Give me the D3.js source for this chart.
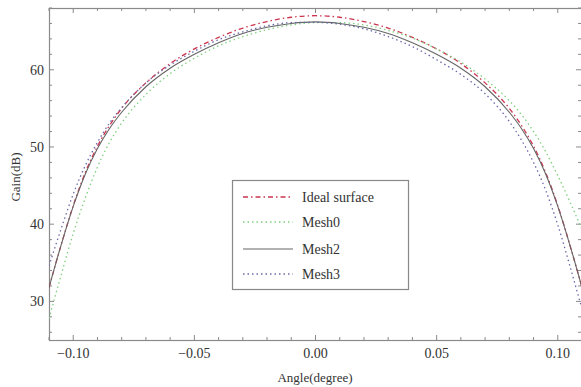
<!DOCTYPE html>
<html><head><meta charset="utf-8">
<script src="https://cdn.jsdelivr.net/npm/d3@7"></script>
<style>body{margin:0;background:#fff}svg{display:block}</style>
</head><body>
<svg id="c" width="581" height="387"></svg>
<script>
const angles = [-0.11,-0.105,-0.10,-0.095,-0.09,-0.085,-0.08,-0.07,-0.06,-0.05,-0.04,-0.03,-0.02,-0.01,0,0.01,0.02,0.03,0.04,0.05,0.06,0.07,0.08,0.085,0.09,0.095,0.10,0.105,0.11];
const ideal = [31.8,37.3,42.4,46.7,50.1,52.8,55.0,58.3,60.8,62.7,64.2,65.4,66.25,66.8,67.0,66.8,66.25,65.4,64.2,62.7,60.8,58.3,55.0,52.8,50.1,46.7,42.4,37.3,31.8];
const mesh0 = [27.8,33.4,38.8,43.4,47.4,50.6,53.1,56.8,59.5,61.5,63.1,64.3,65.2,65.8,66.1,66.1,65.8,65.1,64.1,62.7,61.0,58.8,56.0,54.2,52.0,49.4,46.3,42.9,39.3];
const mesh2 = [31.8,37.3,42.3,46.5,49.8,52.4,54.5,57.8,60.2,62.0,63.5,64.7,65.5,66.0,66.2,66.0,65.5,64.7,63.5,62.0,60.2,57.8,54.5,52.4,49.8,46.5,42.3,37.3,31.8];
const mesh3 = [34.6,39.4,43.9,47.6,50.6,53.1,55.1,58.3,60.6,62.4,63.9,64.9,65.7,66.1,66.15,65.9,65.3,64.3,63.0,61.3,59.4,56.9,53.3,50.9,48.0,44.4,39.9,34.6,29.0];
const seriesNames = ["Ideal surface","Mesh0","Mesh2","Mesh3"];
const xTicks = [-0.10,-0.05,0.00,0.05,0.10];
const xTickLabels = ["\u22120.10","\u22120.05","0.00","0.05","0.10"];
const yTicks = [30,40,50,60];
const xTitle = "Angle(degree)";
const yTitle = "Gain(dB)";

const styles = [
  {color:"#cc3550", dash:"5,3,1.5,3", w:1.3},
  {color:"#80d080", dash:"1.5,3", w:1.3},
  {color:"#666666", dash:null, w:1.1},
  {color:"#6a6aaa", dash:"1.5,3", w:1.3}
];
const data = [ideal, mesh0, mesh2, mesh3];

const svg = d3.select("#c");
const L=49, R=582, T=8, B=340;
const x = d3.scaleLinear().domain([-0.11,0.11]).range([L,R]);
const y = d3.scaleLinear().domain([25,68]).range([B,T]);

svg.append("defs").append("clipPath").attr("id","clip")
  .append("rect").attr("x",L).attr("y",T).attr("width",R-L).attr("height",B-T);

const frameColor="#8a8a8a";
const xMinor = d3.range(-0.11,0.1101,0.01).map(v=>+v.toFixed(2));
const yMinor = d3.range(26,68.01,2);
const g = svg.append("g");
xMinor.forEach(v=>{
  const major = xTicks.some(t=>Math.abs(t-v)<1e-9);
  const len = major?5:3;
  g.append("line").attr("x1",x(v)).attr("x2",x(v)).attr("y1",B).attr("y2",B-len).attr("stroke",frameColor);
  g.append("line").attr("x1",x(v)).attr("x2",x(v)).attr("y1",T).attr("y2",T+len).attr("stroke",frameColor);
});
yMinor.forEach(v=>{
  const major = yTicks.includes(v);
  const len = major?5:3;
  g.append("line").attr("x1",L).attr("x2",L+len).attr("y1",y(v)).attr("y2",y(v)).attr("stroke",frameColor);
  g.append("line").attr("x1",R-1).attr("x2",R-1-len).attr("y1",y(v)).attr("y2",y(v)).attr("stroke",frameColor);
});
svg.append("rect").attr("x",L+0.5).attr("y",T+0.5).attr("width",R-L).attr("height",B-T)
  .attr("fill","none").attr("stroke",frameColor).attr("stroke-width",1.2);

const font = "'Liberation Serif','Times New Roman',serif";
xTicks.forEach((v,i)=>{
  svg.append("text").attr("x",x(v)).attr("y",358).attr("text-anchor","middle")
    .attr("font-family",font).attr("font-size",14).attr("fill","#333").text(xTickLabels[i]);
});
yTicks.forEach(v=>{
  svg.append("text").attr("x",44).attr("y",y(v)+5).attr("text-anchor","end")
    .attr("font-family",font).attr("font-size",14).attr("fill","#333").text(v);
});
svg.append("text").attr("x",315).attr("y",382).attr("text-anchor","middle")
  .attr("font-family",font).attr("font-size",13).attr("fill","#333").text(xTitle);
svg.append("text").attr("transform","translate(20,177) rotate(-90)").attr("text-anchor","middle")
  .attr("font-family",font).attr("font-size",13).attr("fill","#333").text(yTitle);

const line = d3.line().x((d,i)=>x(angles[i])).y(d=>y(d)).curve(d3.curveMonotoneX);
const plot = svg.append("g").attr("clip-path","url(#clip)");
data.forEach((arr,k)=>{
  plot.append("path").attr("d",line(arr)).attr("fill","none")
    .attr("stroke",styles[k].color).attr("stroke-width",styles[k].w)
    .attr("stroke-dasharray",styles[k].dash);
});

const lg = svg.append("g");
lg.append("rect").attr("x",232.5).attr("y",180.5).attr("width",176).attr("height",109)
  .attr("fill","#fff").attr("stroke","#888").attr("stroke-width",1.2);
const rows=[197,222,249,274];
seriesNames.forEach((n,k)=>{
  lg.append("line").attr("x1",243).attr("x2",293).attr("y1",rows[k]).attr("y2",rows[k])
    .attr("stroke",styles[k].color).attr("stroke-width",styles[k].w).attr("stroke-dasharray",styles[k].dash);
  lg.append("text").attr("x",302).attr("y",rows[k]+5).attr("font-family",font).attr("font-size",14)
    .attr("fill","#333").text(n);
});
</script>
</body></html>
